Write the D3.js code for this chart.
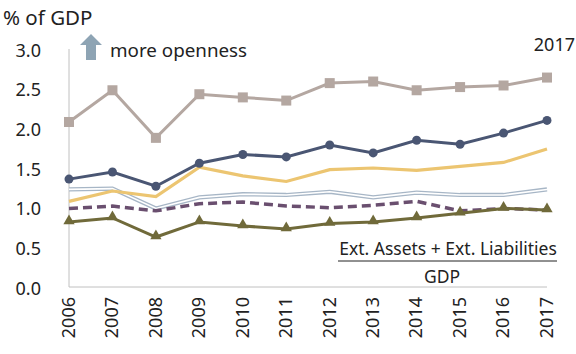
<!DOCTYPE html>
<head>
  <meta charset="utf-8">
  <script src="https://cdn.jsdelivr.net/npm/d3@7"></script>
  <style>
    body { margin: 0; background: #fff; }
    text { font-family: "Noto Sans", sans-serif; fill: #222; }
  </style>
</head>
<body>
<script>
var years = ["2006","2007","2008","2009","2010","2011","2012","2013","2014","2015","2016","2017"];
var taupe  = [2.08, 2.48, 1.88, 2.43, 2.39, 2.35, 2.57, 2.59, 2.48, 2.52, 2.54, 2.64];
var navy   = [1.36, 1.45, 1.27, 1.56, 1.67, 1.64, 1.79, 1.69, 1.85, 1.80, 1.94, 2.10];
var yellow = [1.08, 1.21, 1.14, 1.51, 1.40, 1.33, 1.48, 1.50, 1.47, 1.52, 1.57, 1.74];
var dbl    = [1.23, 1.24, 0.99, 1.13, 1.17, 1.16, 1.20, 1.13, 1.19, 1.16, 1.16, 1.23];
var dashed = [0.99, 1.02, 0.96, 1.05, 1.07, 1.02, 1.00, 1.03, 1.08, 0.96, 0.99, 0.97];
var olive  = [0.82, 0.87, 0.63, 0.82, 0.77, 0.73, 0.80, 0.82, 0.87, 0.93, 0.99, 0.97];
var yTicks = [0, 0.5, 1.0, 1.5, 2.0, 2.5, 3.0];

var svg = d3.select("body").append("svg").attr("width", 576).attr("height", 354);

var x = d3.scalePoint().domain(years).range([69, 547]);
var y = d3.scaleLinear().domain([0, 3]).range([287, 49]);

// axes
svg.append("line").attr("x1", 69).attr("x2", 69).attr("y1", y(3)).attr("y2", y(0))
  .style("stroke", "#c0c0c0").style("stroke-width", 1);
svg.append("line").attr("x1", 69).attr("x2", 547).attr("y1", y(0)).attr("y2", y(0))
  .style("stroke", "#c0c0c0").style("stroke-width", 1);

svg.selectAll(".ytick").data(yTicks).enter().append("text")
  .attr("x", 41).attr("y", d => y(d) + 3)
  .attr("text-anchor", "end").attr("dominant-baseline", "middle")
  .style("font-size", "18px")
  .text(d => d.toFixed(1));

svg.selectAll(".xtick").data(years).enter().append("text")
  .attr("transform", d => "translate(" + (x(d) + 1) + ",297) rotate(-90)")
  .attr("text-anchor", "end").attr("dominant-baseline", "middle")
  .style("font-size", "18px")
  .text(d => d);

var line = d3.line().x((d, i) => x(years[i])).y(d => y(d));

// double line
svg.append("path").attr("d", line(dbl)).style("fill", "none")
  .style("stroke", "#a7b6c6").style("stroke-width", 4.2);
svg.append("path").attr("d", line(dbl)).style("fill", "none")
  .style("stroke", "#ffffff").style("stroke-width", 1.6);

svg.append("path").attr("d", line(yellow)).style("fill", "none")
  .style("stroke", "#ecc571").style("stroke-width", 3.2);

svg.append("path").attr("d", line(dashed)).style("fill", "none")
  .style("stroke", "#6a4f6f").style("stroke-width", 3.5)
  .style("stroke-dasharray", "9,5");

svg.append("path").attr("d", line(olive)).style("fill", "none")
  .style("stroke", "#706a3a").style("stroke-width", 3);
svg.selectAll(".tri").data(olive).enter().append("path")
  .attr("d", d3.symbol().type(d3.symbolTriangle).size(55))
  .attr("transform", (d, i) => "translate(" + x(years[i]) + "," + (y(d) - 1) + ")")
  .style("fill", "#706a3a");

svg.append("path").attr("d", line(navy)).style("fill", "none")
  .style("stroke", "#4a5673").style("stroke-width", 3);
svg.selectAll(".dot").data(navy).enter().append("circle")
  .attr("cx", (d, i) => x(years[i])).attr("cy", d => y(d)).attr("r", 4.5)
  .style("fill", "#4a5673");

svg.append("path").attr("d", line(taupe)).style("fill", "none")
  .style("stroke", "#b4a7a1").style("stroke-width", 3);
svg.selectAll(".sq").data(taupe).enter().append("rect")
  .attr("x", (d, i) => x(years[i]) - 5).attr("y", d => y(d) - 5)
  .attr("width", 10).attr("height", 10)
  .style("fill", "#b4a7a1");

// labels
svg.append("text").attr("x", 3).attr("y", 25).style("font-size", "20.5px").text("% of GDP");
svg.append("path")
  .attr("d", "M91,34 L102,45 L96,45 L96,60 L86,60 L86,45 L80,45 Z")
  .style("fill", "#8ea4b4");
svg.append("text").attr("x", 110).attr("y", 57).style("font-size", "18.8px").text("more openness");
svg.append("text").attr("x", 575).attr("y", 51).attr("text-anchor", "end")
  .style("font-size", "18px").text("2017");

svg.append("text").attr("x", 448).attr("y", 255).attr("text-anchor", "middle")
  .style("font-size", "17.5px").text("Ext. Assets + Ext. Liabilities");
svg.append("line").attr("x1", 338).attr("x2", 557).attr("y1", 261).attr("y2", 261)
  .style("stroke", "#222").style("stroke-width", 1);
svg.append("text").attr("x", 442).attr("y", 283).attr("text-anchor", "middle")
  .style("font-size", "17.5px").text("GDP");
</script>
</body>
